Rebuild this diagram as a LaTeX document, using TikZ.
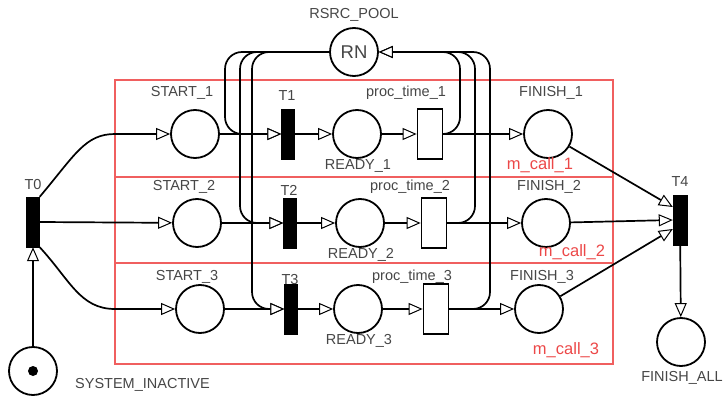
\documentclass[tikz,border=0pt]{standalone}
\usepackage{fontspec}
\setmainfont{Liberation Sans}
\usetikzlibrary{arrows.meta,calc}
\definecolor{boxred}{RGB}{240,95,95}
\definecolor{lblgray}{RGB}{70,70,70}
\definecolor{callred}{RGB}{236,72,72}

\begin{document}
\begin{tikzpicture}[x=1pt,y=-1pt,
  place/.style={draw,circle,line width=1.8pt,minimum size=48pt,inner sep=0pt},
  trans/.style={draw,fill=black,minimum width=13pt,minimum height=50pt,inner sep=0pt},
  delay/.style={draw,fill=white,line width=1.8pt,minimum width=25pt,minimum height=50pt,inner sep=0pt},
  lbl/.style={text=lblgray,font=\fontsize{14.5}{16}\selectfont,inner sep=0pt},
  calllbl/.style={text=callred,font=\fontsize{16.5}{18}\selectfont,inner sep=0pt},
  arc/.style={line width=1.7pt,-{Triangle[length=14pt,width=12pt,fill=white,line width=1pt]}},
  region/.style={draw=boxred,line width=1.3pt}]
\useasboundingbox (0,0) rectangle (727,398);
% the three module boxes
\foreach \t/\b in {80/177,177/263,263/364} \draw[region] (115,\t) rectangle (613,\b);
% resource pool
\node[place,text=lblgray,font=\fontsize{18.5}{20}\selectfont] (RN) at (354,52) {RN};
\node[lbl] (lRN) at (354,15) {RSRC\_POOL};
% start and end of the system
\node[trans] (T0) at (33,222) {};
\node[lbl] (lT0) at (33,185) {T0};
\node[place] (SI) at (33,371) {};
\node[circle,fill=black,minimum size=10pt,inner sep=0pt] (tok) at (SI) {};
\node[lbl,anchor=west] (lSI) at (75,385) {SYSTEM\_INACTIVE};
\node[trans,minimum width=14pt] (T4) at (680,220) {};
\node[lbl] (lT4) at (680,182) {T4};
\node[place] (FA) at (681,342) {};
\node[lbl] (lFA) at (682,378) {FINISH\_ALL};
% one row per module
\foreach \i/\y/\xs/\xt/\xr/\xp/\xf/\dy/\mx/\my/\ty in {1/134/195/288/357/430/548/41/540/165/13,2/223/197/290/360/434/546/36/572/252/0,3/309/200/291/358/436/539/32/566/350/-9}{
  \node[place] (S\i) at (\xs,\y) {};
  \node[trans] (T\i) at (\xt,\y) {};
  \node[place] (R\i) at (\xr,\y) {};
  \node[delay] (P\i) at (\xp,\y) {};
  \node[place] (F\i) at (\xf,\y) {};
  \node[lbl] (lS\i) at (\xs-13,\y-\dy) {START\_\i};
  \node[lbl] (lT\i) at (\xt-1,\y-\dy+3) {T\i};
  \node[lbl] (lP\i) at (\xp-24,\y-\dy) {proc\_time\_\i};
  \node[lbl] (lR\i) at (\xr+1,\y+32) {READY\_\i};
  \node[lbl] (lF\i) at (\xf+3,\y-\dy) {FINISH\_\i};
  \node[calllbl] (lM\i) at (\mx,\my) {m\_call\_\i};
  \draw[arc] (S\i) -- (T\i);
  \draw[arc] (T\i) -- (R\i);
  \draw[arc] (R\i) -- (P\i);
  \draw[arc] (P\i) -- (F\i);
  \draw[arc] (F\i) -- ([yshift=\ty pt]T4.west);
}
% resource taken and given back
\foreach \i/\y/\vl/\vr in {1/134/225/460,2/223/240/475,3/309/252/490}{
  \draw[arc,rounded corners=17pt] (RN.west) -| (\vl,\y) -- (T\i.west);
  \draw[arc,rounded corners=17pt] (P\i.east) -| (\vr,52) -- (RN.east);
}
\draw[arc] (T0.north east) .. controls (75,155) and (85,134) .. (115,134) -- (S1);
\draw[arc] (T0.east) -- (S2);
\draw[arc] (T0.south east) .. controls (70,280) and (80,309) .. (115,309) -- (S3);
\draw[arc] (SI) -- (T0);
\draw[arc] (T4) -- (FA);
\end{tikzpicture}
\end{document}
